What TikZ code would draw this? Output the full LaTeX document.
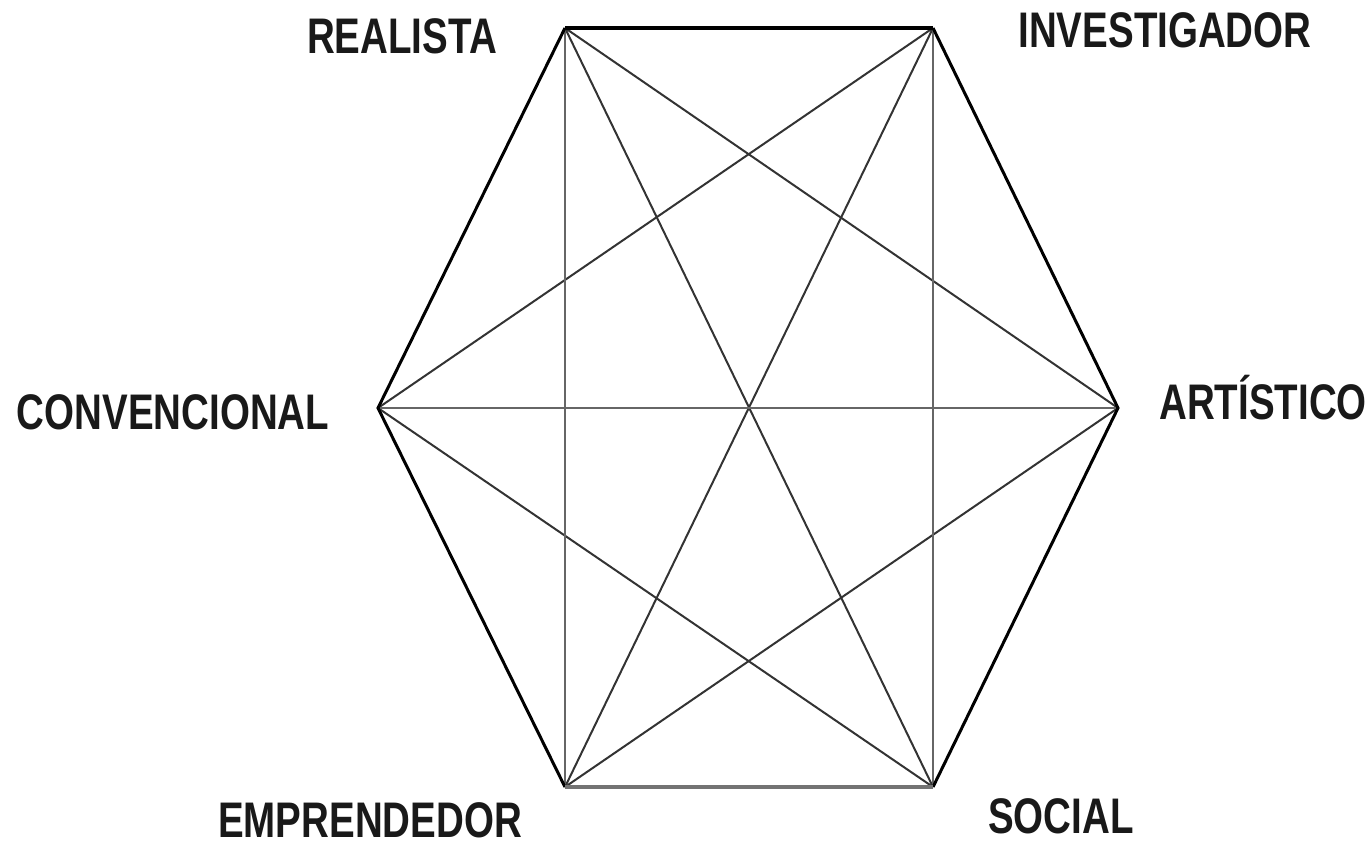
\documentclass[tikz,border=0pt]{standalone}
\usepackage{fontspec}
\setmainfont{Liberation Sans}[FakeStretch=0.77]
\begin{document}
\begin{tikzpicture}[x=1pt,y=-1pt,
  lbl/.style={font=\fontsize{50}{50}\selectfont\bfseries, text=black!90, inner sep=0pt, anchor=center},
  edge/.style={black, line width=3pt},
  diag/.style={black!80, line width=2pt},
  vdiag/.style={black!60, line width=2pt}]
\useasboundingbox (0,0) rectangle (1371,848);
\coordinate (R) at (565,28);
\coordinate (I) at (933,28);
\coordinate (A) at (1118,408);
\coordinate (S) at (933,787);
\coordinate (E) at (565,787);
\coordinate (C) at (378,408);
% diagonals
\draw[diag] (R) -- (A);
\draw[diag] (R) -- (S);
\draw[diag] (I) -- (C);
\draw[diag] (I) -- (E);
\draw[diag] (C) -- (S);
\draw[diag] (E) -- (A);
\draw[vdiag] (R) -- (E);
\draw[vdiag] (I) -- (S);
\draw[vdiag] (C) -- (A);
% hexagon
\draw[edge] (I) -- (A) -- (S);
\draw[edge] (E) -- (C) -- (R);
\draw[black, line width=3.6pt] (R) -- (I);
\draw[black!55, line width=4.6pt] (E) -- (S);
% labels
\node[lbl] (lR) at (402,36) {REALISTA};
\node[lbl] (lI) at (1165,30) {INVESTIGADOR};
\node[lbl] (lC) at (173,412) {CONVENCIONAL};
\node[lbl] (lA) at (1263,398) {ARTÍSTICO};
\node[lbl] (lE) at (370,820) {EMPRENDEDOR};
\node[lbl] (lS) at (1061,816) {SOCIAL};
\end{tikzpicture}
\end{document}
